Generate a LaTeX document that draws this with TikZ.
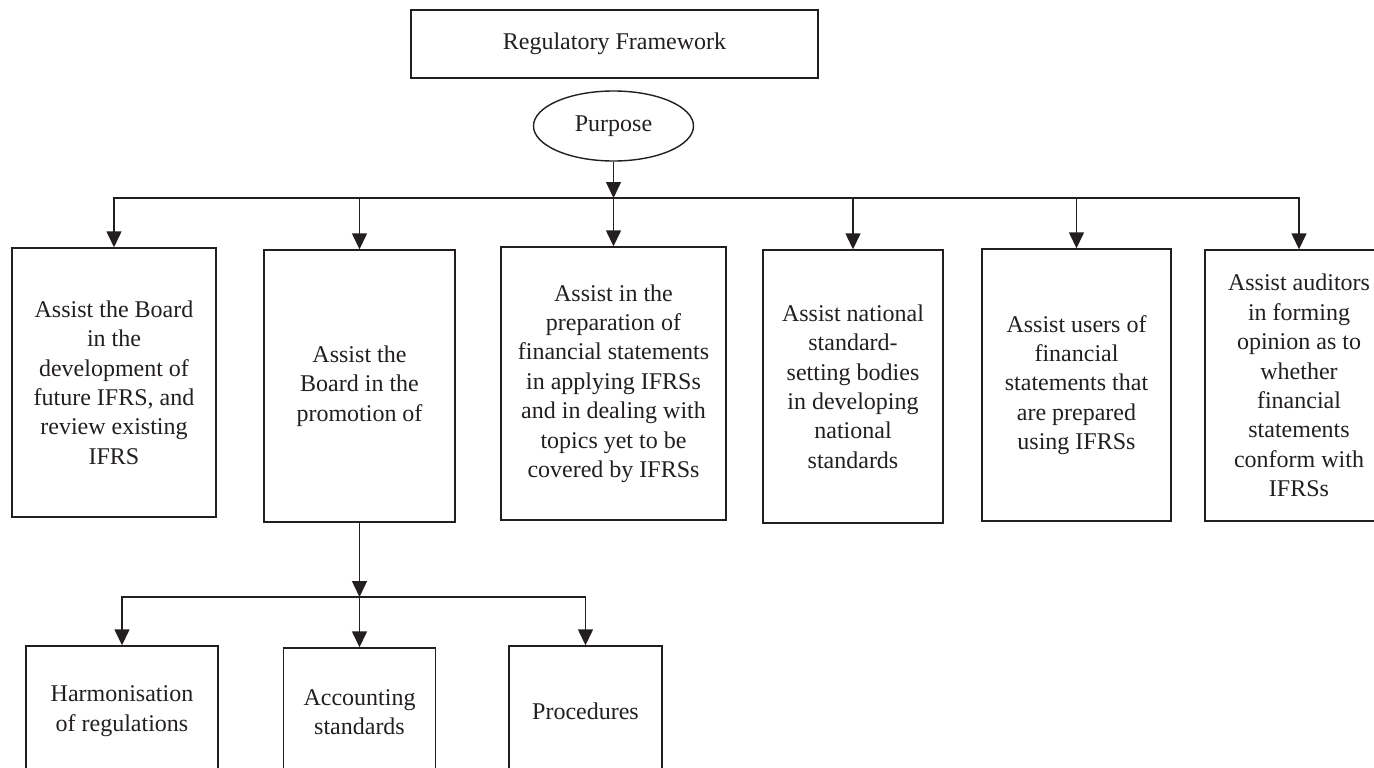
\documentclass[tikz,border=0pt]{standalone}
\usepackage{fontspec}
\setmainfont{Liberation Serif}
\usetikzlibrary{arrows.meta,shapes.geometric}
\definecolor{ink}{HTML}{231F20}
\begin{document}
\begin{tikzpicture}[x=1pt,y=-1pt,
  every node/.style={font=\fontsize{24}{29.4}\selectfont, text=ink},
  box/.style={draw=ink, line width=1.4pt, rectangle, inner sep=0pt, align=center},
  conn/.style={draw=ink, line width=1.4pt, -{Triangle[length=16pt,width=15pt]}}]
\useasboundingbox (0,0) rectangle (1374,768);
\clip (0,0) rectangle (1374,768);
\fill[white] (0,0) rectangle (1374,768);

% title and purpose
\node[box, minimum width=407pt, minimum height=68pt] (rf) at (614.5,44) {Regulatory Framework};
\node[draw=ink, line width=1.4pt, ellipse, inner sep=0pt, minimum width=160pt, minimum height=70pt] (purpose) at (613.5,126) {Purpose};

% first level boxes
\node[box, minimum width=204pt, minimum height=269pt] (b1) at (114,382.5)
  {Assist the Board\\in the\\development of\\future IFRS, and\\review existing\\IFRS};
\node[box, minimum width=191pt, minimum height=272pt] (b2) at (359.5,386)
  {Assist the\\Board in the\\promotion of};
\node[box, minimum width=225pt, minimum height=273pt] (b3) at (613.5,383.5)
  {Assist in the\\preparation of\\financial statements\\in applying IFRSs\\and in dealing with\\topics yet to be\\covered by IFRSs};
\node[box, minimum width=180pt, minimum height=273pt] (b4) at (853,386.5)
  {Assist national\\standard-\\setting bodies\\in developing\\national\\standards};
\node[box, minimum width=189pt, minimum height=272pt] (b5) at (1076.5,385)
  {Assist users of\\financial\\statements that\\are prepared\\using IFRSs};
\node[box, minimum width=188pt, minimum height=271pt] (b6) at (1299,385.5)
  {Assist auditors\\in forming\\opinion as to\\whether\\financial\\statements\\conform with\\IFRSs};

% second level boxes
\node[box, minimum width=192pt, minimum height=130pt] (c1) at (122,711)
  {Harmonisation\\of regulations};
\node[box, minimum width=152pt, minimum height=128pt] (c2) at (359.5,712)
  {Accounting\\standards};
\node[box, minimum width=153pt, minimum height=130pt] (c3) at (585.5,711)
  {Procedures};

% connectors
\coordinate (busT) at (613.5,198);
\draw[conn] (purpose.south) -- (busT);
\foreach \n in {b1,b2,b3,b4,b5,b6}
  \draw[conn] (busT) -| (\n.north);

\coordinate (busB) at (359.5,597);
\draw[conn] (b2.south) -- (busB);
\foreach \n in {c1,c2,c3}
  \draw[conn] (busB) -| (\n.north);
\end{tikzpicture}
\end{document}
